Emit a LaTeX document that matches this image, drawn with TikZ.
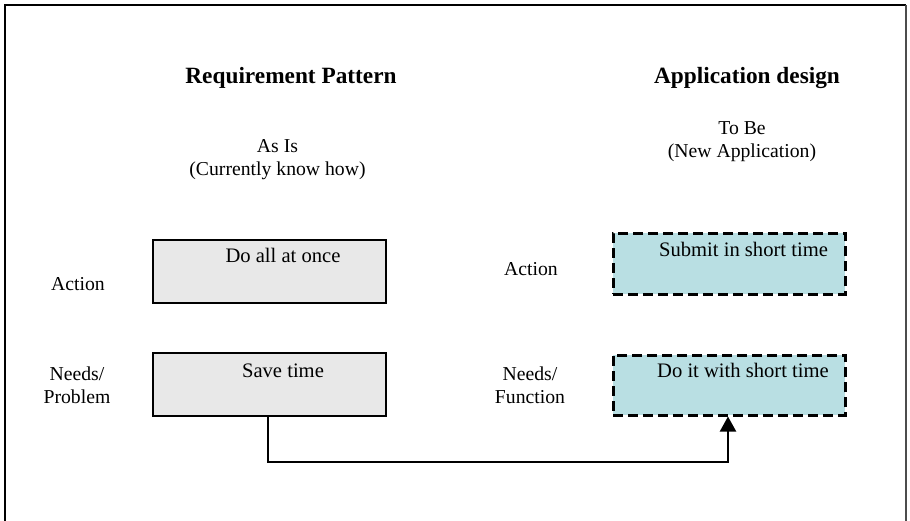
\documentclass[tikz,border=0pt]{standalone}
\usepackage{fontspec}
\setmainfont{Liberation Serif}
\usetikzlibrary{arrows.meta}
\definecolor{boxgray}{HTML}{E8E8E8}
\definecolor{boxteal}{HTML}{B9DFE3}
\begin{document}
\begin{tikzpicture}[x=1pt,y=-1pt,
  lbl/.style={font=\fontsize{19.7}{23}\selectfont, inner sep=0pt, anchor=base},
  head/.style={font=\fontsize{23.3}{27}\selectfont\bfseries, inner sep=0pt, anchor=base},
  asbox/.style={draw=black, line width=2pt, fill=boxgray, inner sep=0pt, anchor=north west},
  tobox/.style={draw=black, line width=2.5pt, fill=boxteal, dash pattern=on 10pt off 5pt, inner sep=0pt, anchor=north west},
  boxtext/.style={font=\fontsize{20.6}{24}\selectfont, inner sep=0pt, anchor=base},
  link/.style={line width=2pt, -{Triangle[length=15pt,width=16pt]}}
]
\useasboundingbox (0,0) rectangle (910,520);
\draw[line width=2pt] (5,540) -- (5,5) -- (906,5);
\draw[line width=1.3pt, black!70] (906,5) -- (906,540);

\node[head] (h1) at (291,83) {Requirement Pattern};
\node[head] (h2) at (747,83) {Application design};

\node[lbl] (asis1) at (277.5,152) {As Is};
\node[lbl] (asis2) at (277.5,175) {(Currently know how)};
\node[lbl] (tobe1) at (742,134) {To Be};
\node[lbl] (tobe2) at (742,157) {(New Application)};

\node[lbl] (act1) at (78,290) {Action};
\node[lbl] (need1) at (77,380) {Needs/};
\node[lbl] (prob1) at (77,403) {Problem};
\node[lbl] (act2) at (531,275) {Action};
\node[lbl] (need2) at (530,380) {Needs/};
\node[lbl] (func2) at (530,403) {Function};

\node[asbox, minimum width=233pt, minimum height=63pt] (b1) at (152,239) {};
\node[asbox, minimum width=233pt, minimum height=63pt] (b2) at (152,352) {};
\node[tobox, minimum width=232pt, minimum height=61pt] (b3) at (612,232) {};
\node[tobox, minimum width=232pt, minimum height=60pt] (b4) at (612,354) {};

\node[boxtext] (t1) at (283,262) {Do all at once};
\node[boxtext] (t2) at (283,377) {Save time};
\node[boxtext] (t3) at (743.5,256) {Submit in short time};
\node[boxtext] (t4) at (743,377) {Do it with short time};

\coordinate (c1) at (268,462);
\coordinate (c2) at (728,462);
\draw[link] (b2.south -| c1) -- (c1) -- (c2) -- (b4.south -| c2);
\end{tikzpicture}
\end{document}
